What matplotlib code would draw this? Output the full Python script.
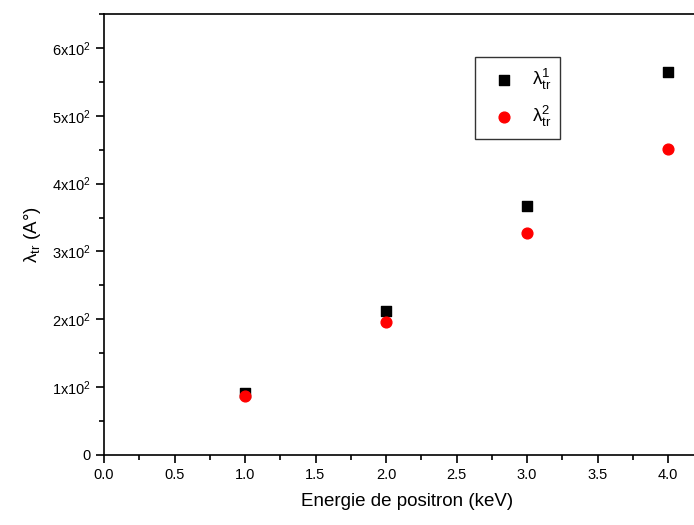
import matplotlib
matplotlib.use("Agg")
import matplotlib.pyplot as plt
from matplotlib.ticker import MultipleLocator, FuncFormatter

plt.rcParams['font.family'] = ['Liberation Sans', 'DejaVu Sans']
plt.rcParams['mathtext.fontset'] = 'custom'
plt.rcParams['mathtext.rm'] = 'Liberation Sans'
plt.rcParams['mathtext.it'] = 'Liberation Sans:italic'

energy = [1.0, 2.0, 3.0, 4.0]
lambda_tr1 = [91, 212, 367, 565]
lambda_tr2 = [87, 196, 327, 451]

fig = plt.figure(figsize=(6.94, 5.25), dpi=100)
W, H = 694, 525
x0, y0, ytop = 104, 455, 14
px_per_x = 141
xmax = 4.3
ax = fig.add_axes([x0 / W, 1 - y0 / H, xmax * px_per_x / W, (y0 - ytop) / H])

ax.scatter(energy, lambda_tr1, marker='s', s=50, color='black', label=r'λ$_{\rm tr}^{\rm 1}$', zorder=3)
ax.scatter(energy, lambda_tr2, marker='o', s=60, color='red', label=r'λ$_{\rm tr}^{\rm 2}$', zorder=3)

ax.set_xlim(0, xmax)
ax.set_ylim(0, 650)
ax.xaxis.set_major_locator(MultipleLocator(0.5))
ax.xaxis.set_minor_locator(MultipleLocator(0.25))
ax.yaxis.set_major_locator(MultipleLocator(100))
ax.yaxis.set_minor_locator(MultipleLocator(50))
ax.xaxis.set_major_formatter(FuncFormatter(lambda v, p: f"{v:.1f}"))


def yfmt(v, p):
    if v == 0:
        return "0"
    return r"%dx10$^{\rm 2}$" % round(v / 100)


ax.yaxis.set_major_formatter(FuncFormatter(yfmt))
ax.tick_params(which='both', direction='out', labelsize=10.5, width=1.2)
ax.tick_params(which='major', length=6)
ax.tick_params(which='minor', length=3.5)
ax.spines['right'].set_visible(False)
for s in ['left', 'bottom', 'top']:
    ax.spines[s].set_linewidth(1.2)

ax.set_xlabel('Energie de positron (keV)', fontsize=13.5, labelpad=8)
ax.set_ylabel(r'λ$_{\rm tr}$ (A°)', fontsize=13.5, labelpad=6)

leg = ax.legend(loc='upper left', bbox_to_anchor=((466 - x0) / (xmax * px_per_x), (455 - 48) / 441),
                fontsize=13.5, frameon=True, fancybox=False, edgecolor='black',
                handletextpad=0.5, borderpad=0.5, labelspacing=0.65)
leg.get_frame().set_linewidth(1.0)

fig.savefig('out.png', dpi=100)
